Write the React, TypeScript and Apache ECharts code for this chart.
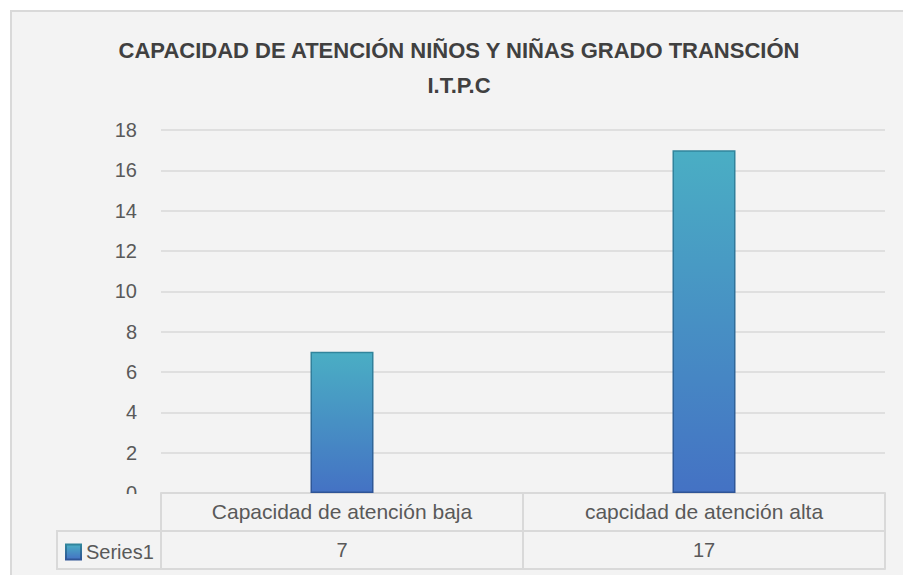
import React, { useEffect, useRef } from "react";
import * as echarts from "echarts";

const titleLines = ["CAPACIDAD DE ATENCIÓN NIÑOS Y NIÑAS GRADO TRANSCIÓN", "I.T.P.C"];
const categories = ["Capacidad de atención baja", "capcidad de atención alta"];
const seriesName = "Series1";
const values = [7, 17];
const yMin = 0;
const yMax = 18;
const yInterval = 2;

const FONT = "'Liberation Sans', Arial, sans-serif";
const TEXT = "#595959";
const LINE = "#d9d9d9";

export default function App() {
  const ref = useRef<HTMLDivElement>(null);
  useEffect(() => {
    document.body.style.margin = "0";
    const chart = echarts.init(ref.current!, undefined, { renderer: "svg" });
    const barColor = new echarts.graphic.LinearGradient(0, 0, 0, 1, [
      { offset: 0, color: "#4aaec4" },
      { offset: 1, color: "#4472c4" },
    ]);
    const barBorder = new echarts.graphic.LinearGradient(0, 0, 0, 1, [
      { offset: 0, color: "#31859c" },
      { offset: 1, color: "#2f5597" },
    ]);
    chart.setOption({
      animation: false,
      backgroundColor: "#ffffff",
      textStyle: { fontFamily: FONT },
      title: {
        text: titleLines.join("\n"),
        left: 454,
        top: 28,
        textAlign: "center",
        textStyle: {
          fontFamily: FONT,
          fontSize: 22,
          fontWeight: "bold",
          color: "#404040",
          lineHeight: 35,
        },
      },
      legend: {
        left: 60,
        top: 537,
        icon: "rect",
        itemWidth: 15,
        itemHeight: 15,
        itemGap: 4,
        textStyle: { fontFamily: FONT, fontSize: 20, color: TEXT },
        data: [seriesName],
      },
      graphic: [
        {
          type: "rect",
          z: -10,
          silent: true,
          shape: { x: 11, y: 11, width: 900, height: 570 },
          style: { fill: "#f3f3f3", stroke: LINE, lineWidth: 2 },
        },
        {
          type: "rect",
          z: 100,
          silent: true,
          shape: { x: 60, y: 494, width: 100, height: 36 },
          style: { fill: "#f3f3f3" },
        },
        {
          type: "rect",
          z: 100,
          silent: true,
          shape: { x: 57, y: 531, width: 104, height: 38 },
          style: { fill: "none", stroke: LINE, lineWidth: 2 },
        },
      ],
      grid: { left: 161, right: 18, top: 130, bottom: 82 },
      xAxis: [
        {
          type: "category",
          data: categories,
          position: "bottom",
          axisLine: { show: true, lineStyle: { color: LINE, width: 2 } },
          axisTick: { show: true, length: 76, lineStyle: { color: LINE, width: 2 } },
          axisLabel: { fontFamily: FONT, fontSize: 21, color: TEXT, margin: 8 },
        },
        {
          type: "category",
          data: values.map(String),
          position: "bottom",
          offset: 38,
          axisLine: { show: true, lineStyle: { color: LINE, width: 2 } },
          axisTick: { show: false },
          axisLabel: { fontFamily: FONT, fontSize: 20, color: TEXT, margin: 9 },
        },
        {
          type: "category",
          data: values.map(String),
          position: "bottom",
          offset: 76,
          axisLine: { show: true, lineStyle: { color: LINE, width: 2 } },
          axisTick: { show: false },
          axisLabel: { show: false },
        },
      ],
      yAxis: {
        type: "value",
        min: yMin,
        max: yMax,
        interval: yInterval,
        axisLine: { show: false },
        axisTick: { show: false },
        axisLabel: { fontFamily: FONT, fontSize: 20, color: TEXT, margin: 24 },
        splitLine: { lineStyle: { color: LINE, width: 1.5 } },
      },
      series: [
        {
          name: seriesName,
          type: "bar",
          xAxisIndex: 0,
          data: values,
          barWidth: 63,
          itemStyle: { color: barColor, borderColor: barBorder, borderWidth: 1.5 },
        },
      ],
    });
    return () => chart.dispose();
  }, []);
  return <div ref={ref} style={{ position: "fixed", left: 0, top: 0, width: 903, height: 575 }} />;
}
